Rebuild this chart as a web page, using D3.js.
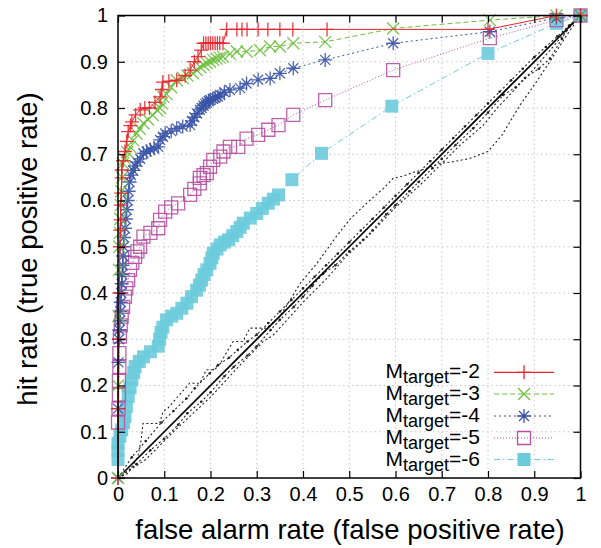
<!DOCTYPE html>
<html><head><meta charset="utf-8">
<script src="https://cdn.jsdelivr.net/npm/d3@7"></script>
<style>body{margin:0;background:#fff}svg text{font-family:"Liberation Sans",Arial,Helvetica,sans-serif;fill:#000}</style>
</head><body><svg id="c" width="601" height="548"></svg>
<script>
const tickValues = [0,0.1,0.2,0.3,0.4,0.5,0.6,0.7,0.8,0.9,1];
const tickLabels = ["0","0.1","0.2","0.3","0.4","0.5","0.6","0.7","0.8","0.9","1"];
const seriesLabels = ["=-2","=-3","=-4","=-5","=-6"];

const m2 = [[0,0],[0.001,0.15],[0.002,0.3],[0.003,0.4],[0.004,0.5],[0.005,0.536],[0.006,0.558],[0.006,0.59],[0.007,0.616],[0.008,0.649],[0.008,0.666],[0.011,0.686],[0.015,0.706],[0.019,0.728],[0.022,0.749],[0.027,0.762],[0.03,0.77],[0.038,0.785],[0.048,0.796],[0.058,0.8],[0.068,0.8],[0.08,0.812],[0.091,0.824],[0.095,0.84],[0.097,0.856],[0.11,0.858],[0.127,0.86],[0.145,0.87],[0.156,0.882],[0.165,0.9],[0.173,0.911],[0.18,0.925],[0.185,0.94],[0.19,0.94],[0.195,0.94],[0.2,0.94],[0.205,0.94],[0.21,0.94],[0.215,0.94],[0.22,0.94],[0.227,0.94],[0.235,0.97],[0.257,0.97],[0.268,0.97],[0.279,0.97],[0.303,0.97],[0.324,0.97],[0.35,0.97],[0.378,0.97],[0.452,0.97],[0.8,0.97],[0.948,1.0],[1,1]];
const m3 = [[0,0],[0,0.2],[0.001,0.35],[0.002,0.45],[0.003,0.5],[0.004,0.53],[0.005,0.56],[0.006,0.59],[0.007,0.62],[0.009,0.65],[0.011,0.68],[0.015,0.69],[0.02,0.705],[0.026,0.716],[0.033,0.73],[0.04,0.745],[0.047,0.755],[0.055,0.767],[0.065,0.775],[0.075,0.785],[0.085,0.795],[0.091,0.8],[0.095,0.81],[0.098,0.824],[0.105,0.83],[0.115,0.845],[0.127,0.86],[0.14,0.865],[0.15,0.87],[0.162,0.875],[0.17,0.882],[0.178,0.888],[0.185,0.893],[0.192,0.897],[0.199,0.9],[0.206,0.904],[0.213,0.907],[0.22,0.909],[0.227,0.911],[0.242,0.917],[0.257,0.922],[0.278,0.922],[0.307,0.925],[0.329,0.933],[0.35,0.933],[0.379,0.94],[0.448,0.943],[0.595,0.972],[0.804,0.99],[0.948,1.0],[1,1]];
const m4 = [[0,0],[0,0.15],[0.001,0.25],[0.002,0.3],[0.003,0.32],[0.004,0.34],[0.005,0.36],[0.006,0.38],[0.007,0.4],[0.008,0.42],[0.009,0.44],[0.01,0.46],[0.011,0.48],[0.012,0.5],[0.013,0.52],[0.015,0.54],[0.017,0.56],[0.019,0.58],[0.021,0.6],[0.023,0.62],[0.025,0.64],[0.028,0.655],[0.033,0.665],[0.037,0.675],[0.042,0.683],[0.048,0.69],[0.055,0.702],[0.062,0.706],[0.07,0.71],[0.078,0.713],[0.087,0.716],[0.091,0.731],[0.097,0.738],[0.102,0.745],[0.115,0.75],[0.127,0.756],[0.14,0.76],[0.156,0.763],[0.16,0.772],[0.165,0.78],[0.171,0.788],[0.177,0.796],[0.181,0.8],[0.185,0.805],[0.189,0.809],[0.192,0.812],[0.196,0.815],[0.199,0.817],[0.205,0.82],[0.21,0.822],[0.216,0.825],[0.221,0.828],[0.23,0.834],[0.242,0.839],[0.264,0.843],[0.278,0.853],[0.303,0.861],[0.329,0.864],[0.35,0.875],[0.379,0.886],[0.448,0.904],[0.595,0.94],[0.804,0.965],[0.948,0.995],[1,1]];
const m5 = [[0,0.12],[0.001,0.15],[0.002,0.18],[0.002,0.21],[0.003,0.24],[0.003,0.27],[0.004,0.306],[0.006,0.33],[0.008,0.349],[0.011,0.37],[0.015,0.392],[0.018,0.41],[0.022,0.428],[0.026,0.45],[0.031,0.465],[0.037,0.478],[0.042,0.49],[0.048,0.5],[0.055,0.522],[0.07,0.53],[0.087,0.54],[0.091,0.558],[0.102,0.576],[0.115,0.585],[0.13,0.594],[0.156,0.612],[0.165,0.625],[0.177,0.637],[0.177,0.649],[0.185,0.655],[0.192,0.659],[0.199,0.673],[0.206,0.688],[0.221,0.695],[0.228,0.706],[0.242,0.716],[0.26,0.716],[0.278,0.734],[0.303,0.742],[0.325,0.753],[0.347,0.763],[0.379,0.785],[0.448,0.817],[0.595,0.882],[0.804,0.951],[0.948,0.99],[1,1]];
const m6 = [[0,0.04],[0,0.06],[0,0.075],[0.004,0.09],[0.008,0.104],[0.012,0.12],[0.015,0.133],[0.018,0.155],[0.022,0.176],[0.026,0.195],[0.03,0.212],[0.034,0.228],[0.037,0.241],[0.046,0.252],[0.055,0.262],[0.07,0.273],[0.087,0.285],[0.09,0.3],[0.093,0.315],[0.097,0.326],[0.105,0.342],[0.116,0.35],[0.127,0.356],[0.138,0.367],[0.149,0.378],[0.159,0.392],[0.17,0.406],[0.176,0.417],[0.181,0.428],[0.186,0.44],[0.192,0.45],[0.199,0.464],[0.203,0.476],[0.206,0.486],[0.214,0.495],[0.221,0.504],[0.23,0.51],[0.239,0.515],[0.248,0.524],[0.257,0.533],[0.264,0.542],[0.271,0.551],[0.286,0.562],[0.3,0.572],[0.312,0.583],[0.325,0.594],[0.336,0.603],[0.347,0.612],[0.376,0.645],[0.44,0.702],[0.592,0.804],[0.8,0.918],[0.948,0.983],[1,1]];

const chanceA = [[0,0],[0.022,0.01],[0.043,0.046],[0.05,0.082],[0.054,0.118],[0.09,0.118],[0.097,0.143],[0.108,0.151],[0.126,0.172],[0.155,0.205],[0.177,0.205],[0.191,0.234],[0.209,0.234],[0.223,0.251],[0.238,0.277],[0.249,0.295],[0.27,0.295],[0.285,0.324],[0.321,0.324],[0.35,0.349],[0.372,0.385],[0.394,0.421],[0.43,0.464],[0.472,0.522],[0.502,0.56],[0.545,0.601],[0.574,0.626],[0.595,0.648],[0.617,0.653],[0.642,0.662],[0.657,0.666],[0.696,0.68],[0.725,0.684],[0.761,0.691],[0.8,0.706],[0.83,0.741],[0.869,0.806],[0.905,0.857],[0.938,0.907],[0.97,0.957],[1,1]];
const chanceB = [[0,0],[0.04,0.03],[0.07,0.06],[0.1,0.085],[0.13,0.115],[0.15,0.14],[0.18,0.165],[0.2,0.185],[0.23,0.22],[0.25,0.24],[0.28,0.265],[0.3,0.285],[0.33,0.32],[0.35,0.342],[0.38,0.37],[0.4,0.392],[0.42,0.415],[0.444,0.442],[0.47,0.46],[0.5,0.49],[0.53,0.515],[0.55,0.535],[0.58,0.57],[0.6,0.59],[0.63,0.62],[0.65,0.64],[0.68,0.67],[0.7,0.69],[0.73,0.72],[0.768,0.756],[0.8,0.79],[0.833,0.828],[0.86,0.845],[0.88,0.865],[0.91,0.885],[0.934,0.907],[0.96,0.95],[0.977,0.979],[1,1]];
const chanceC = [[0,0],[0.03,0.045],[0.06,0.08],[0.094,0.12],[0.12,0.145],[0.148,0.172],[0.166,0.194],[0.198,0.226],[0.216,0.244],[0.24,0.26],[0.259,0.277],[0.28,0.295],[0.3,0.31],[0.325,0.335],[0.35,0.36],[0.375,0.385],[0.4,0.41],[0.425,0.435],[0.45,0.46],[0.475,0.485],[0.5,0.51],[0.525,0.535],[0.55,0.56],[0.575,0.585],[0.6,0.61],[0.625,0.635],[0.65,0.66],[0.675,0.685],[0.7,0.71],[0.725,0.735],[0.75,0.76],[0.775,0.785],[0.8,0.81],[0.825,0.835],[0.85,0.86],[0.875,0.885],[0.9,0.91],[0.925,0.932],[0.95,0.955],[0.975,0.978],[1,1]];
const chanceD = [[0,0],[0.06,0.04],[0.12,0.1],[0.2,0.175],[0.26,0.24],[0.314,0.295],[0.336,0.309],[0.4,0.38],[0.45,0.43],[0.494,0.48],[0.538,0.52],[0.6,0.585],[0.66,0.64],[0.7,0.68],[0.74,0.72],[0.79,0.763],[0.82,0.8],[0.9,0.885],[0.96,0.955],[1,1]];
const diagonal = [[0,0],[1,1]];

const x = d3.scaleLinear().domain([0,1]).range([118,580.5]);
const y = d3.scaleLinear().domain([0,1]).range([478,15.5]);
const svg = d3.select("#c");

// grid
const grid = svg.append("g");
tickValues.filter(v=>v>0&&v<1).forEach(v=>{
  grid.append("line").attr("x1",x(v)).attr("x2",x(v)).attr("y1",y(0)).attr("y2",y(1))
    .attr("stroke","#c8c8c8").attr("stroke-width",1).attr("stroke-dasharray","1.5,3");
  grid.append("line").attr("x1",x(0)).attr("x2",x(1)).attr("y1",y(v)).attr("y2",y(v))
    .attr("stroke","#c8c8c8").attr("stroke-width",1).attr("stroke-dasharray","1.5,3");
});

const line = d3.line().x(d=>x(d[0])).y(d=>y(d[1]));

// chance curves
const chance = svg.append("g");
[[chanceA,"2,2.5",false],[chanceB,"2,2.5",true],[chanceC,"2,2.5",true],[chanceD,"2,2.5",false]].forEach(([data,dash,dots])=>{
  chance.append("path").attr("d",line(data)).attr("fill","none").attr("stroke","#222").attr("stroke-width",1.1).attr("stroke-dasharray",dash);
  if(dots){
    chance.selectAll(null).data(data).enter().append("circle").attr("cx",d=>x(d[0])).attr("cy",d=>y(d[1])).attr("r",1.3).attr("fill","#222");
  }
});
chance.append("path").attr("d",line(diagonal)).attr("fill","none").attr("stroke","#000").attr("stroke-width",1.6);

// marker shapes
const shapes = {
  plus: "M-7,0H7M0,-7V7",
  cross: "M-6,-6L6,6M-6,6L6,-6",
  star: "M-7,0H7M0,-7V7M-5,-5L5,5M-5,5L5,-5",
  square: "M-6.5,-6.5H6.5V6.5H-6.5Z",
  fsquare: "M-6.5,-6.5H6.5V6.5H-6.5Z"
};
const series = [
  {data:m2, color:"#e8242c", dash:null, shape:"plus"},
  {data:m3, color:"#6cbf3c", dash:"5,3", shape:"cross"},
  {data:m4, color:"#3853a6", dash:"2,3", shape:"star"},
  {data:m5, color:"#b651a2", dash:"1,2", shape:"square"},
  {data:m6, color:"#6ccbdb", dash:"6,3,1.5,3", shape:"fsquare"}
];
function marker(g, s, px, py){
  const p = g.append("path").attr("d",shapes[s.shape]).attr("transform",`translate(${px},${py})`);
  if(s.shape==="fsquare") p.attr("fill",s.color).attr("stroke","none");
  else p.attr("fill","none").attr("stroke",s.color).attr("stroke-width",1.3);
  return p;
}
const drawOrder = [4,3,2,1,0];
drawOrder.forEach(i=>{
  const s = series[i];
  const g = svg.append("g");
  g.append("path").attr("d",line(s.data)).attr("fill","none").attr("stroke",s.color).attr("stroke-width",1)
    .attr("stroke-dasharray",s.dash);
  s.data.forEach(d=>marker(g,s,x(d[0]),y(d[1])).attr("opacity",0.9));
});

// frame
svg.append("rect").attr("x",x(0)).attr("y",y(1)).attr("width",x(1)-x(0)).attr("height",y(0)-y(1))
  .attr("fill","none").attr("stroke","#000").attr("stroke-width",1.5);

// axes
const fmt = (d)=>tickLabels[tickValues.indexOf(d)];
const ax = svg.append("g").attr("transform",`translate(0,${y(0)})`)
  .call(d3.axisBottom(x).tickValues(tickValues).tickFormat(fmt).tickSizeInner(-7).tickSizeOuter(0).tickPadding(9));
const ay = svg.append("g").attr("transform",`translate(${x(0)},0)`)
  .call(d3.axisLeft(y).tickValues(tickValues).tickFormat(fmt).tickSizeInner(-7).tickSizeOuter(0).tickPadding(10));
const at = svg.append("g").attr("transform",`translate(0,${y(1)})`)
  .call(d3.axisTop(x).tickValues(tickValues).tickFormat("").tickSizeInner(-7).tickSizeOuter(0));
const ar = svg.append("g").attr("transform",`translate(${x(1)},0)`)
  .call(d3.axisRight(y).tickValues(tickValues).tickFormat("").tickSizeInner(-7).tickSizeOuter(0));
[ax,ay,at,ar].forEach(a=>{
  a.select(".domain").remove();
  a.selectAll(".tick line").attr("stroke","#000").attr("stroke-width",1.2);
  a.selectAll(".tick text").attr("font-size",20).attr("font-family","'Liberation Sans',Arial,sans-serif").attr("fill","#000");
});

// axis titles
svg.append("text").attr("x",350).attr("y",539).attr("text-anchor","middle").attr("font-size",27.5)
  .text("false alarm rate (false positive rate)");
svg.append("text").attr("transform","translate(37,249) rotate(-90)").attr("text-anchor","middle").attr("font-size",27.5)
  .text("hit rate (true positive rate)");

// legend
const legY = [372.3,394,416,438,459.5];
series.forEach((s,i)=>{
  const ly = legY[i];
  const t = svg.append("text").attr("x",480).attr("y",ly+6).attr("text-anchor","end").attr("font-size",21);
  t.append("tspan").text("M");
  t.append("tspan").attr("font-size",18).attr("dy",5).text("target");
  t.append("tspan").attr("dy",-5).text(seriesLabels[i]);
  svg.append("line").attr("x1",494).attr("x2",554).attr("y1",ly).attr("y2",ly)
    .attr("stroke",s.color).attr("stroke-width",1.2).attr("stroke-dasharray",s.dash);
  marker(svg,s,524,ly);
});
</script></body></html>
